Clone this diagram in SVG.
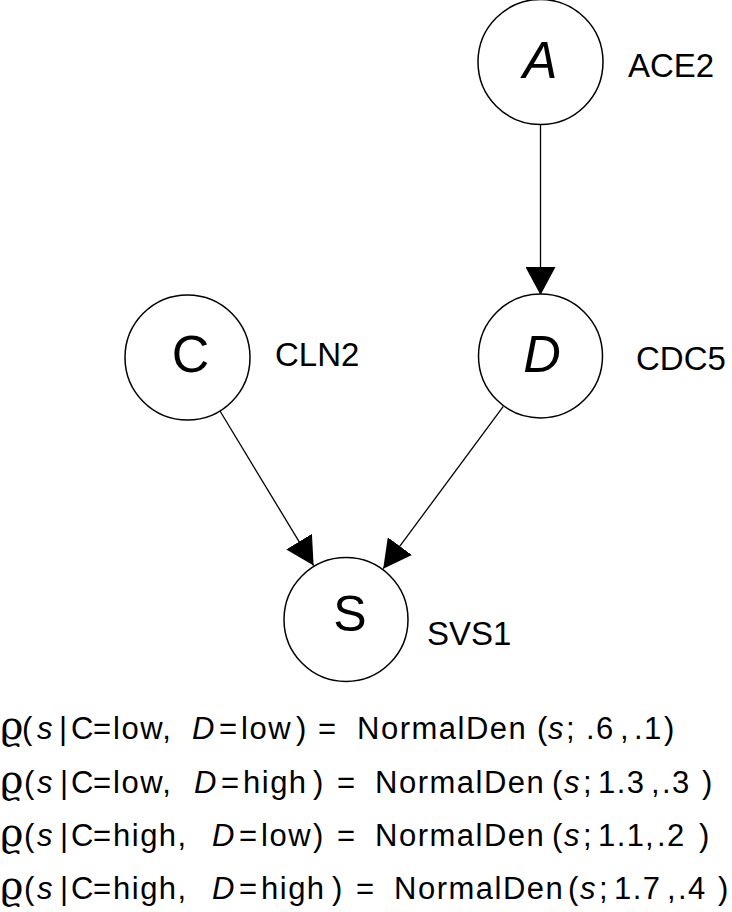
<svg xmlns="http://www.w3.org/2000/svg" width="732" height="912" viewBox="0 0 732 912">
<style>
.node circle{fill:#fff;stroke:#000;stroke-width:1.5}
.big{font-family:"Liberation Sans",Arial,sans-serif;font-size:52px;text-anchor:middle;fill:#000}
.lbl{font-family:"Liberation Sans",Arial,sans-serif;font-size:33px;fill:#000}
.edge{stroke:#000;stroke-width:1.3;fill:none;marker-end:url(#ah)}
.f{font-family:"Liberation Sans",Arial,sans-serif;font-size:31px;letter-spacing:1.5px;fill:#000}
.rho{font-family:"DejaVu Serif","Liberation Serif",serif;font-size:40px;letter-spacing:0}
.i{font-style:italic}
</style>
<defs>
<marker id="ah" markerUnits="userSpaceOnUse" markerWidth="28" markerHeight="30" refX="28" refY="15" orient="auto" viewBox="0 0 28 30">
<path d="M0,0 L28,15 L0,30 Z" fill="#000"/>
</marker>
</defs>
<g id="edges">
<line class="edge" x1="540.5" y1="124.5" x2="540.5" y2="295"/>
<line class="edge" x1="220" y1="411" x2="313.6" y2="565.6"/>
<line class="edge" x1="503.3" y1="406.3" x2="383.2" y2="568.7"/>
</g>
<g id="node-A" class="node">
<circle cx="540.5" cy="62" r="62.5"/>
<text class="big i" x="540" y="78">A</text>
<text class="lbl" x="628" y="77">ACE2</text>
</g>
<g id="node-C" class="node">
<circle cx="187.5" cy="357.5" r="62.5"/>
<text class="big" x="190.5" y="372">C</text>
<text class="lbl" x="275" y="366">CLN2</text>
</g>
<g id="node-D" class="node">
<circle cx="540.5" cy="356" r="62"/>
<text class="big i" x="542" y="372">D</text>
<text class="lbl" x="636" y="370">CDC5</text>
</g>
<g id="node-S" class="node">
<circle cx="346" cy="619.5" r="62"/>
<text class="big" x="350" y="631" style="font-size:50px">S</text>
<text class="lbl" x="427" y="645">SVS1</text>
</g>
<g id="formulas">
<text class="f" y="739"><tspan class="rho" x="0">ϱ</tspan><tspan x="22">(</tspan><tspan class="i" x="37">s</tspan><tspan x="59">|</tspan><tspan x="71">C</tspan><tspan x="93">=</tspan><tspan x="113">low,</tspan><tspan class="i" x="192">D</tspan><tspan x="219">=</tspan><tspan x="241">low</tspan><tspan x="296">)</tspan><tspan x="318">=</tspan><tspan x="357">NormalDen</tspan><tspan x="537">(</tspan><tspan class="i" x="548">s</tspan><tspan x="566">;</tspan><tspan x="586">.6</tspan><tspan x="620">,</tspan><tspan x="634">.1</tspan><tspan x="664">)</tspan></text>
<text class="f" y="793"><tspan class="rho" x="0">ϱ</tspan><tspan x="24">(</tspan><tspan class="i" x="37">s</tspan><tspan x="60">|</tspan><tspan x="71">C</tspan><tspan x="93">=</tspan><tspan x="113">low,</tspan><tspan class="i" x="194">D</tspan><tspan x="221">=</tspan><tspan x="243">high</tspan><tspan x="313">)</tspan><tspan x="337">=</tspan><tspan x="375">NormalDen</tspan><tspan x="552">(</tspan><tspan class="i" x="564">s</tspan><tspan x="583">;</tspan><tspan x="598">1.3</tspan><tspan x="651">,</tspan><tspan x="662">.3</tspan><tspan x="702">)</tspan></text>
<text class="f" y="846"><tspan class="rho" x="0">ϱ</tspan><tspan x="24">(</tspan><tspan class="i" x="37">s</tspan><tspan x="60">|</tspan><tspan x="71">C</tspan><tspan x="93">=</tspan><tspan x="113">high,</tspan><tspan class="i" x="212">D</tspan><tspan x="239">=</tspan><tspan x="261">low</tspan><tspan x="313">)</tspan><tspan x="337">=</tspan><tspan x="375">NormalDen</tspan><tspan x="552">(</tspan><tspan class="i" x="564">s</tspan><tspan x="583">;</tspan><tspan x="598">1.1</tspan><tspan x="645">,</tspan><tspan x="657">.2</tspan><tspan x="699">)</tspan></text>
<text class="f" y="899"><tspan class="rho" x="0">ϱ</tspan><tspan x="24">(</tspan><tspan class="i" x="37">s</tspan><tspan x="60">|</tspan><tspan x="71">C</tspan><tspan x="93">=</tspan><tspan x="113">high,</tspan><tspan class="i" x="212">D</tspan><tspan x="239">=</tspan><tspan x="261">high</tspan><tspan x="332">)</tspan><tspan x="356">=</tspan><tspan x="394">NormalDen</tspan><tspan x="568">(</tspan><tspan class="i" x="580">s</tspan><tspan x="599">;</tspan><tspan x="614">1.7</tspan><tspan x="667">,</tspan><tspan x="678">.4</tspan><tspan x="718">)</tspan></text>
</g>
</svg>
